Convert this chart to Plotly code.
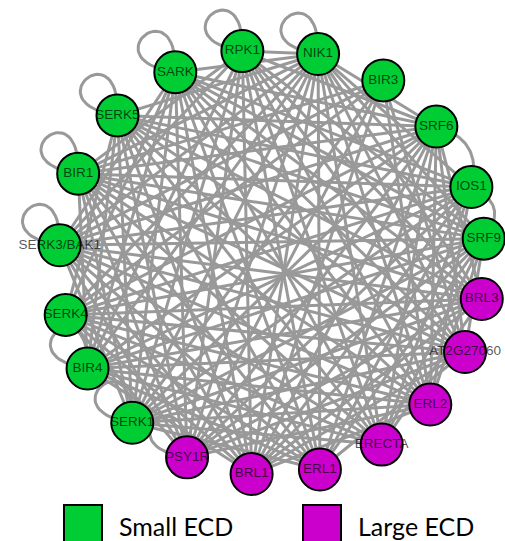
import numpy as np
import plotly.graph_objects as go

# Receptor nodes, listed clockwise around the circle
nodes = ["SARK", "RPK1", "NIK1", "BIR3", "SRF6", "IOS1", "SRF9",
         "BRL3", "AT2G27060", "ERL2", "ERECTA", "ERL1", "BRL1", "PSY1R",
         "SERK1", "BIR4", "SERK4", "SERK3/BAK1", "BIR1", "SERK5"]
ecd_class = ["Small", "Small", "Small", "Small", "Small", "Small", "Small",
             "Large", "Large", "Large", "Large", "Large", "Large", "Large",
             "Small", "Small", "Small", "Small", "Small", "Small"]
# circular layout: angle of each node around the ring (degrees, counter-clockwise from east)
layout_angle_deg = [117, 98, 77.5, 58.5, 39.5, 20.6, 6.3, -10, -25, -42,
                    -59, -77, -95.5, -113.5, -131, -150, -165.6, 175.5, 155.5, 136.5]

# Interactions (each pair listed once)
neighbors = {
    "SARK": ["NIK1", "SRF6", "IOS1", "SRF9", "BRL3", "AT2G27060", "ERL2", "ERECTA", "ERL1",
             "BRL1", "PSY1R", "SERK1", "BIR4", "SERK4", "SERK3/BAK1"],
    "RPK1": ["NIK1", "SRF6", "SRF9", "BRL3", "AT2G27060", "ERL2", "ERECTA", "ERL1",
             "BRL1", "PSY1R", "SERK1", "BIR4", "SERK3/BAK1", "BIR1"],
    "NIK1": ["SRF6", "IOS1", "SRF9", "BRL3", "AT2G27060", "ERL2", "ERECTA", "ERL1",
             "BRL1", "PSY1R", "SERK1", "BIR4", "SERK4", "SERK3/BAK1", "BIR1", "SERK5"],
    "BIR3": ["AT2G27060", "ERL2", "BRL1", "PSY1R", "SERK1", "SERK4", "SERK3/BAK1", "BIR1"],
    "SRF6": ["BRL3", "AT2G27060", "ERL2", "ERECTA", "ERL1", "BRL1", "PSY1R",
             "SERK1", "BIR4", "SERK4", "SERK3/BAK1", "BIR1", "SERK5"],
    "IOS1": ["ERL2", "ERECTA", "ERL1", "BRL1", "PSY1R", "SERK1", "BIR4",
             "SERK4", "SERK3/BAK1", "BIR1", "SERK5"],
    "SRF9": ["AT2G27060", "ERL2", "ERECTA", "ERL1", "BRL1", "PSY1R", "SERK1",
             "BIR4", "SERK4", "SERK3/BAK1", "BIR1", "SERK5"],
    "BRL3": ["ERECTA", "BRL1", "PSY1R", "SERK1", "BIR4", "SERK4",
             "SERK3/BAK1", "BIR1", "SERK5"],
    "AT2G27060": ["ERL1", "BRL1", "PSY1R", "SERK1", "BIR4", "SERK4",
                  "SERK3/BAK1", "BIR1", "SERK5"],
    "ERL2": ["BRL1", "PSY1R", "SERK1", "BIR4", "SERK4", "SERK3/BAK1", "BIR1", "SERK5"],
    "ERECTA": ["SERK1", "BIR4", "SERK4", "SERK3/BAK1", "BIR1", "SERK5"],
    "ERL1": ["SERK1", "BIR4", "SERK4", "SERK3/BAK1", "BIR1", "SERK5"],
    "BRL1": ["BIR4", "SERK4", "SERK3/BAK1", "BIR1", "SERK5"],
    "PSY1R": ["SERK4", "SERK3/BAK1", "BIR1", "SERK5"],
    "SERK1": ["SERK3/BAK1", "BIR1", "SERK5"],
    "BIR4": ["BIR1", "SERK5"],
    "SERK4": ["SERK5"],
}
self_loops = ["SARK", "RPK1", "NIK1", "SERK5", "BIR1", "SERK3/BAK1", "BIR4", "SERK1", "PSY1R"]
curved_edges = [("SRF6", "IOS1"), ("IOS1", "SRF9")]

legend_labels = ["Small ECD", "Large ECD"]
class_colors = {"Small": "#00CC33", "Large": "#CC00CC"}

# ---- circular layout (pixel space, y grows downward) ----
CX, CY, RAD = 272.0, 262.0, 213.0
ang = np.radians(np.array(layout_angle_deg))
px = CX + RAD * np.cos(ang)
py = CY - RAD * np.sin(ang)
pos = {n: (px[i], py[i]) for i, n in enumerate(nodes)}

EDGE_COLOR = "#999999"
EDGE_W = 3

# straight edges
ex, ey = [], []
for a, nbrs in neighbors.items():
    for b in nbrs:
        ex += [pos[a][0], pos[b][0], None]
        ey += [pos[a][1], pos[b][1], None]

# self loops: cubic bezier leaving and re-entering the node, toward upper-left
t = np.linspace(0, 1, 40)
axis_deg, half_deg, reach = 130.0, 42.0, 86.0
for n in self_loops:
    c = np.array(pos[n])
    u1 = np.array([np.cos(np.radians(axis_deg - half_deg)), -np.sin(np.radians(axis_deg - half_deg))])
    u2 = np.array([np.cos(np.radians(axis_deg + half_deg)), -np.sin(np.radians(axis_deg + half_deg))])
    p1, p2 = c + reach * u1, c + reach * u2
    b = ((1 - t) ** 3)[:, None] * c + (3 * (1 - t) ** 2 * t)[:, None] * p1 \
        + (3 * (1 - t) * t ** 2)[:, None] * p2 + (t ** 3)[:, None] * c
    ex += list(b[:, 0]) + [None]
    ey += list(b[:, 1]) + [None]

# curved edges between neighbouring nodes, bulging outward
for a, b_ in curved_edges:
    pa, pb = np.array(pos[a]), np.array(pos[b_])
    mid = (pa + pb) / 2
    out = mid - np.array([CX, CY])
    out /= np.linalg.norm(out)
    ctrl = mid + 34 * out
    q = ((1 - t) ** 2)[:, None] * pa + (2 * (1 - t) * t)[:, None] * ctrl + (t ** 2)[:, None] * pb
    ex += list(q[:, 0]) + [None]
    ey += list(q[:, 1]) + [None]

fig = go.Figure()
fig.add_trace(go.Scatter(x=ex, y=ey, mode="lines",
                         line=dict(color=EDGE_COLOR, width=EDGE_W),
                         hoverinfo="skip"))
fig.add_trace(go.Scatter(
    x=px, y=py, mode="markers+text", text=nodes,
    textposition="middle center",
    textfont=dict(family="Liberation Sans, Arial", size=13.5, color="rgba(0,0,0,0.68)"),
    marker=dict(size=42, color=[class_colors[c] for c in ecd_class],
                line=dict(color="black", width=2)),
    hovertext=nodes, hoverinfo="text"))

# legend drawn as squares + text at the bottom
legend_x = [64, 303]
for lbl, cls, x0 in zip(legend_labels, ["Small", "Large"], legend_x):
    fig.add_shape(type="rect", xref="x", yref="y", x0=x0, x1=x0 + 38, y0=505, y1=560,
                  fillcolor=class_colors[cls], line=dict(color="black", width=2))
    fig.add_annotation(x=x0 + 53, y=526, xref="x", yref="y", text=lbl, showarrow=False,
                       xanchor="left", yanchor="middle",
                       font=dict(family="Lato", size=25, color="black"))

fig.update_xaxes(range=[0, 505], visible=False, fixedrange=True)
fig.update_yaxes(range=[541, 0], visible=False, fixedrange=True)
fig.update_layout(width=505, height=541, margin=dict(l=0, r=0, t=0, b=0),
                  paper_bgcolor="white", plot_bgcolor="white", showlegend=False)
fig.write_html("out.html", config={"displayModeBar": False})
